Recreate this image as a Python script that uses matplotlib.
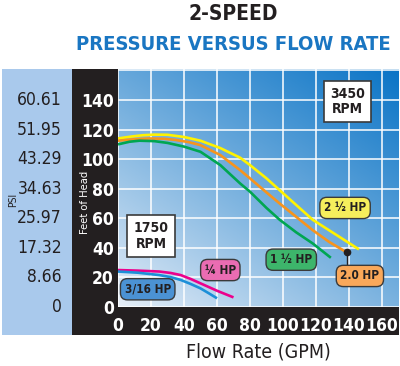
import matplotlib
matplotlib.use("Agg")
import matplotlib.pyplot as plt
import numpy as np
from matplotlib.patches import Rectangle
import matplotlib.transforms as mtransforms

FONT = ['DejaVu Sans']
plt.rcParams['font.family'] = FONT
plt.rcParams['font.stretch'] = 'condensed'

# ---- data ----
feet_ticks = [0, 20, 40, 60, 80, 100, 120, 140]
psi_labels = ['0', '8.66', '17.32', '25.97', '34.63', '43.29', '51.95', '60.61']
x_ticks = [0, 20, 40, 60, 80, 100, 120, 140, 160]

hp25_x = [0, 8, 15, 22, 30, 40, 50, 62, 74, 80, 90, 98, 108, 118, 132, 146]
hp25_y = [114, 115.3, 116.2, 116.6, 116.5, 115, 112.5, 107.5, 101, 96, 87, 79, 69, 59, 49, 39]
hp20_x = [0, 10, 19, 28, 35, 43, 50, 62, 74, 80, 90, 98, 108, 118, 128, 138.6]
hp20_y = [112.5, 113.5, 114, 113.8, 113, 111.5, 109.5, 102.8, 92.6, 87, 77.5, 70, 61, 52, 44, 37]
hp15_x = [0, 7, 13, 22, 30, 40, 50, 62, 74, 80, 90, 98, 108, 118, 129]
hp15_y = [110, 111.8, 112.5, 112.2, 111, 108.5, 105, 96, 83.6, 78, 67, 59, 50.5, 43, 33.3]
hp14_x = [0, 12, 25, 32, 38, 44, 50, 60, 70]
hp14_y = [25, 24.6, 24, 23, 21.6, 19, 16, 11, 6.5]
hp316_x = [0, 12, 25, 32, 38, 44, 50, 55, 60]
hp316_y = [24, 23.2, 21.6, 20.2, 18.3, 15.6, 12.6, 9.3, 5.9]

W, H = 400, 366
fig = plt.figure(figsize=(W / 100, H / 100), dpi=100)

def fx(px):
    return px / W

def fy(py):
    return 1 - py / H

# background bands
fig.patches.append(Rectangle((fx(2), fy(335)), fx(72) - fx(2), fy(69) - fy(335),
                             transform=fig.transFigure, fc='#a9c9ec', ec='none', zorder=-5))
fig.patches.append(Rectangle((fx(72), fy(335)), fx(399) - fx(72), fy(69) - fy(335),
                             transform=fig.transFigure, fc='#231f20', ec='none', zorder=-5))

ax = fig.add_axes([fx(118), fy(307), fx(399) - fx(118), fy(69) - fy(307)])
ax.set_zorder(1)
XMAX, YMAX = 170.3, 161
ax.set_xlim(0, XMAX)
ax.set_ylim(0, YMAX)

# gradient background
n = 200
gx, gy = np.meshgrid(np.linspace(0, 1, n), np.linspace(0, 1, n))
t = np.clip(0.55 * gy + 0.45 * gx, 0, 1)
c_lo = np.array([0xe8, 0xef, 0xf8]) / 255
c_hi = np.array([0x0a, 0x74, 0xc6]) / 255
tt = t ** 0.9
img = c_lo[None, None, :] * (1 - tt[..., None]) + c_hi[None, None, :] * tt[..., None]
ax.imshow(img, extent=[0, XMAX, 0, YMAX], origin='lower', aspect='auto', zorder=0)

ax.set_xticks(x_ticks)
ax.set_yticks(feet_ticks)
for gxv in x_ticks:
    ax.axvline(gxv, color='white', lw=1.1, zorder=1)
for gyv in feet_ticks + [160]:
    ax.axhline(gyv, color='white', lw=1.1, zorder=1)

ax.tick_params(axis='both', length=0, colors='white', labelsize=12.5)
ax.tick_params(axis='x', pad=7)
ax.tick_params(axis='y', pad=3)
for lab in ax.get_xticklabels() + ax.get_yticklabels():
    lab.set_fontweight('bold')
for s in ax.spines.values():
    s.set_visible(False)

# curves
kw = dict(lw=1.9, zorder=3, solid_capstyle='butt', solid_joinstyle='round')
ax.plot(hp25_x, hp25_y, color='#fff200', **kw)
ax.plot(hp20_x, hp20_y, color='#f7941d', **kw)
ax.plot(hp15_x, hp15_y, color='#00a651', **kw)
ax.plot(hp14_x, hp14_y, color='#ec008c', **kw)
ax.plot(hp316_x, hp316_y, color='#1c8fd8', **kw)

# 2.0 HP marker
ax.plot([hp20_x[-1], hp20_x[-1]], [hp20_y[-1], 27], color='#231f20', lw=1, zorder=4)
ax.plot(hp20_x[-1], hp20_y[-1], 'o', color='#231f20', ms=4.5, zorder=5)

def pill(x, y, text, fc):
    ax.text(x, y, text, ha='center', va='center', fontsize=8.5, fontweight='bold',
            color='#231f20', zorder=6,
            bbox=dict(boxstyle='round,pad=0.35,rounding_size=0.6', fc=fc, ec='#3a3a3a', lw=1))

pill(137.6, 67, '2 ½ HP', '#f6ee5c')
pill(146.6, 21, '2.0 HP', '#f9a85a')
pill(105, 32, '1 ½ HP', '#3db56b')
pill(62, 25, '¼ HP', '#ea6cb2')
pill(18, 12, '3/16 HP', '#4b92d4')

def rpm(x, y, text):
    ax.text(x, y, text, ha='center', va='center', fontsize=10, fontweight='bold',
            color='#231f20', linespacing=1.1, zorder=6,
            bbox=dict(boxstyle='square,pad=0.45', fc='white', ec='#3a3a3a', lw=1.2))

rpm(20, 48, '1750\nRPM')
rpm(139, 139, '3450\nRPM')

# PSI labels
trans = mtransforms.blended_transform_factory(fig.transFigure, ax.transData)
for v, lab in zip(feet_ticks, psi_labels):
    ax.text(fx(62), v, lab, transform=trans, ha='right', va='center', fontsize=12.5,
            color='#231f20', clip_on=False)

fig.text(fx(13), fy(200), 'PSI', rotation=90, ha='center', va='center', fontsize=7.5,
         color='#231f20')
fig.text(fx(85), fy(202), 'Feet of Head', rotation=90, ha='center', va='center',
         fontsize=8, color='white')

fig.text(fx(258), fy(352), 'Flow Rate (GPM)', ha='center', va='center', fontsize=14,
         color='#231f20')

fig.text(fx(233), fy(14), '2-SPEED', ha='center', va='center', fontsize=15,
         fontweight='bold', color='#231f20')
fig.text(fx(233), fy(45), 'PRESSURE VERSUS FLOW RATE', ha='center', va='center',
         fontsize=14.5, fontweight='bold', color='#1a76c2')

fig.savefig('out.png', dpi=100)
